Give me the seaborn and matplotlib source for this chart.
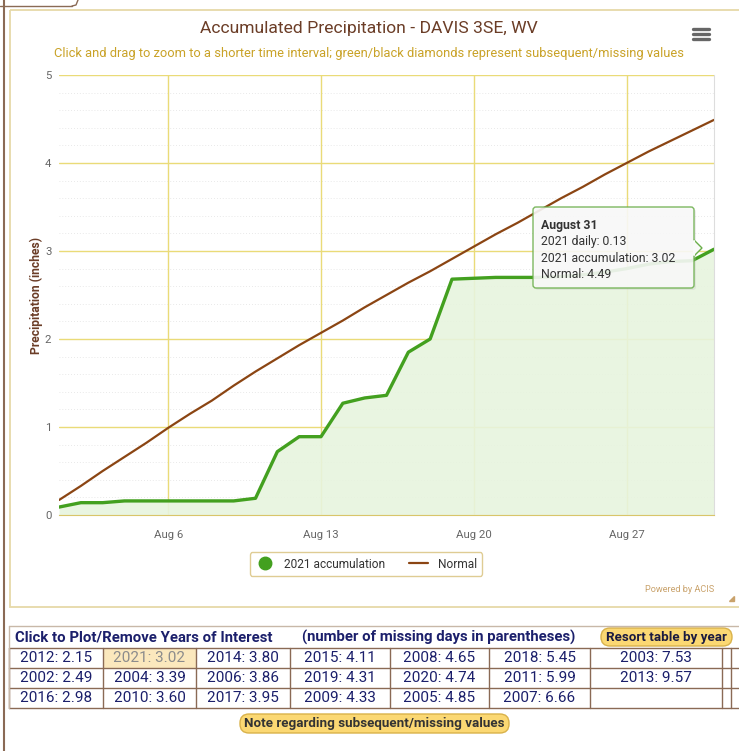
import numpy as np
import pandas as pd
import seaborn as sns
import matplotlib.pyplot as plt
from matplotlib.patches import FancyBboxPatch, Rectangle, Polygon
from matplotlib.lines import Line2D

# ---- data (August 2021, DAVIS 3SE, WV) ----
days = list(range(1, 32))
acc_2021 = [0.09, 0.14, 0.14, 0.16, 0.16, 0.16, 0.16, 0.16, 0.16, 0.19,
            0.72, 0.89, 0.89, 1.27, 1.33, 1.36, 1.85, 2.00, 2.68, 2.69,
            2.70, 2.70, 2.70, 2.71, 2.73, 2.76, 2.80, 2.85, 2.88, 2.89, 3.02]
normal = [0.17, 0.33, 0.50, 0.66, 0.82, 0.99, 1.15, 1.30, 1.47, 1.63,
          1.78, 1.93, 2.07, 2.21, 2.36, 2.50, 2.64, 2.77, 2.91, 3.05,
          3.19, 3.32, 3.46, 3.60, 3.73, 3.87, 4.00, 4.13, 4.25, 4.37, 4.49]
tick_days = [6, 13, 20, 27]

# years of interest table (sorted by total)
years = [2012, 2002, 2016, 2021, 2004, 2010, 2014, 2006, 2017, 2015,
         2019, 2009, 2008, 2020, 2005, 2018, 2011, 2007, 2003, 2013]
totals = [2.15, 2.49, 2.98, 3.02, 3.39, 3.60, 3.80, 3.86, 3.95, 4.11,
          4.31, 4.33, 4.65, 4.74, 4.85, 5.45, 5.99, 6.66, 7.53, 9.57]

df = pd.DataFrame({"day": days, "acc": acc_2021, "normal": normal})

GREEN = "#43a01f"
BROWN = "#8b4513"
GRID = "#eadb78"
GOLD_TXT = "#c9a227"
NAVY = "#1b1f6b"
NARROW = ["Liberation Sans Narrow", "Roboto"]

sns.set_style("white")
plt.rcParams["font.family"] = ["Roboto", "DejaVu Sans"]

W, H = 739, 751
fig = plt.figure(figsize=(W / 100, H / 100), dpi=100)

# pixel-coordinate background layer
bg = fig.add_axes([0, 0, 1, 1], zorder=0)
bg.set_xlim(0, W)
bg.set_ylim(H, 0)
bg.axis("off")

bg.plot([3.5, 3.5], [0, H], color="#8a6a55", lw=1.5)
bg.plot([0, 72], [6, 6], color="#8a6a55", lw=1)
bg.plot([72, 76, 78], [6, 5, 0], color="#8a6a55", lw=1)
bg.add_patch(Rectangle((10, 10), W, 597, fill=False, ec="#e6d9a8", lw=1.3))

fig.text(369 / W, 1 - 29 / H, "Accumulated Precipitation - DAVIS 3SE, WV",
         ha="center", va="center", fontsize=12.6, color="#6b3d27")
fig.text(369 / W, 1 - 53 / H,
         "Click and drag to zoom to a shorter time interval; green/black diamonds represent subsequent/missing values",
         ha="center", va="center", fontsize=9.3, color=GOLD_TXT)
for yy in (29, 34, 39):
    bg.plot([693, 709], [yy, yy], color="#666666", lw=2.4, solid_capstyle="round")

# ---- main chart ----
ax = fig.add_axes([59 / W, 236 / H, 655 / W, 440 / H], zorder=1)
ax.fill_between(df["day"], df["acc"], 0, color="#e7f4de", alpha=0.9, lw=0)
sns.lineplot(data=df, x="day", y="normal", color=BROWN, lw=1.6, ax=ax)
sns.lineplot(data=df, x="day", y="acc", color=GREEN, lw=2.4, ax=ax)

ax.set_xlim(1, 31)
ax.set_ylim(0, 5)
ax.set_xticks(tick_days)
ax.set_xticklabels([f"Aug {d}" for d in tick_days])
ax.set_yticks(range(6))
ax.set_yticks(np.arange(0, 5.01, 0.2), minor=True)
ax.grid(True, which="major", color=GRID, lw=1)
for v in np.arange(0.2, 5, 0.2):
    if abs(v - round(v)) > 0.01:
        ax.axhline(v, color="#e2e2e2", lw=0.6, ls=(0, (1, 2.5)), zorder=0)
ax.set_axisbelow(True)
for s in ("top", "left"):
    ax.spines[s].set_visible(False)
ax.spines["right"].set_color("#dddddd")
ax.spines["bottom"].set_color("#d9c56a")
ax.tick_params(axis="x", which="major", length=7, color="#ccd6eb",
               labelsize=8.2, labelcolor="#666666", pad=4)
ax.tick_params(axis="x", which="minor", length=0)
ax.tick_params(axis="y", which="major", length=2.5, color=GRID, labelsize=8.2,
               labelcolor="#666666", pad=3)
ax.tick_params(axis="y", which="minor", length=2.5, color="#bbbbbb", width=0.8)
ax.set_xlabel("")
ax.set_ylabel("Precipitation (inches)", fontsize=8.7, fontweight="bold",
              color="#6b3d27", labelpad=1)

# legend
handles = [Line2D([], [], color=GREEN, marker="o", ls="none", markersize=9),
           Line2D([], [], color=BROWN, lw=1.6)]
leg = fig.legend(handles, ["2021 accumulation", "Normal"], loc="center",
                 bbox_to_anchor=(366 / W, 1 - 564 / H), ncol=2, frameon=True,
                 fancybox=True, fontsize=8.6, handlelength=1.6,
                 columnspacing=2.0, handletextpad=0.8, borderpad=0.45)
leg.get_frame().set_edgecolor("#d8c07a")
leg.get_frame().set_linewidth(1)
for t in leg.get_texts():
    t.set_color("#333333")

fig.text(714 / W, 1 - 590 / H, "Powered by ACIS", ha="right", va="center",
         fontsize=6.6, color="#c9a26b")
bg.add_patch(Polygon([[734, 596], [734, 601], [729, 601]], color="#c9a26b"))

# ---- foreground layer (tooltip) ----
fg = fig.add_axes([0, 0, 1, 1], zorder=3)
fg.set_xlim(0, W)
fg.set_ylim(H, 0)
fg.axis("off")
fg.add_patch(FancyBboxPatch((535, 209), 161, 81, boxstyle="round,pad=0,rounding_size=3",
                            fc="#bbbbbb", ec="none", alpha=0.25))
fg.add_patch(FancyBboxPatch((533, 207), 161, 81, boxstyle="round,pad=0,rounding_size=3",
                            fc="#fafafa", ec="#6aae4a", lw=1, alpha=0.88))
fg.add_patch(Polygon([[694, 240], [702, 248], [694, 256]], fc="#fafafa", ec="#6aae4a", lw=1))
fg.plot([694, 694], [241, 255], color="#fafafa", lw=1.5)
daily = acc_2021[-1] - acc_2021[-2]
tip = [("August 31", "bold"), (f"2021 daily: {daily:.2f}", "normal"),
       (f"2021 accumulation: {acc_2021[-1]:.2f}", "normal"),
       (f"Normal: {normal[-1]:.2f}", "normal")]
for i, (s, w) in enumerate(tip):
    fg.text(541, 225 + i * 16.5, s, fontsize=8.8, fontweight=w, color="#333333",
            va="center", ha="left")

# ---- years table ----
cols = [9, 103, 196, 290, 390, 489, 590, 722]
rows = [626, 648, 668, 688, 708]
bg.plot([9, W], [rows[0], rows[0]], color="#c8b8a8", lw=1)
for r in rows[1:]:
    bg.plot([9, W], [r, r], color="#8a6a55", lw=1)
for c in cols + [731]:
    bg.plot([c, c], [rows[1], rows[-1]], color="#8a6a55", lw=1)
bg.plot([9, 9], [rows[0], rows[-1]], color="#c8b8a8", lw=1)
bg.add_patch(Rectangle((104, 649), 92, 19, fc="#fbe8bd", ec="none"))

bg.text(15, 637, "Click to Plot/Remove Years of Interest", fontsize=10.7,
        fontweight="bold", color=NAVY, va="center", ha="left", family=NARROW)
bg.text(302, 637, "(number of missing days in parentheses)", fontsize=10.7,
        fontweight="bold", color=NAVY, va="center", ha="left", family=NARROW)
bg.add_patch(FancyBboxPatch((601, 628), 131, 18, boxstyle="round,pad=0,rounding_size=9",
                            fc="#fbd873", ec="#d9b24a", lw=1))
bg.text(666, 637, "Resort table by year", fontsize=9.6, fontweight="bold",
        color="#1a1a40", va="center", ha="center", family=NARROW)

for k, (yr, tot) in enumerate(zip(years, totals)):
    ci, ri = divmod(k, 3)
    cx = (cols[ci] + cols[ci + 1]) / 2
    cy = (rows[ri + 1] + rows[ri + 2]) / 2
    colr = "#8c8c8c" if yr == 2021 else NAVY
    bg.text(cx, cy, f"{yr}: {tot:.2f}", fontsize=11, color=colr,
            va="center", ha="center", family=NARROW)

bg.add_patch(FancyBboxPatch((240, 714), 269, 19, boxstyle="round,pad=0,rounding_size=9",
                            fc="#fbd873", ec="#d9b24a", lw=1))
bg.text(374, 723.5, "Note regarding subsequent/missing values", fontsize=9.6,
        fontweight="bold", color="#333333", va="center", ha="center", family=NARROW)

fig.savefig("out.png", dpi=100)
